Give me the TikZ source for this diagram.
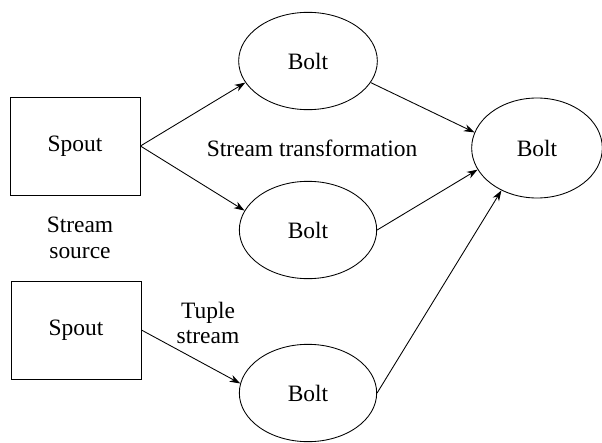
\documentclass[tikz,border=0pt]{standalone}
\usepackage{fontspec}
\setmainfont{Liberation Serif}
\usetikzlibrary{shapes.geometric,arrows.meta}

\tikzset{
  spoutbox/.style={draw,line width=0.65pt,minimum width=97.5pt,minimum height=73.5pt,inner sep=0pt},
  boltnode/.style={draw,ellipse,line width=0.65pt,minimum width=103pt,minimum height=73pt,inner sep=0pt},
  flow/.style={line width=0.65pt,-{Stealth[length=8pt,width=5.5pt]}},
  lbl/.style={inner sep=0pt,align=center}
}

\begin{document}
\begin{tikzpicture}[x=0.75pt,y=0.75pt,yscale=-1,xscale=1,font=\fontsize{17.6}{19}\selectfont]
        \useasboundingbox (0,0) rectangle (602,442);
        
        %Spouts
        \node[spoutbox] (spoutA) at (75,146) {Spout};
        \node[spoutbox] (spoutB) at (76,330) {Spout};
        %Bolts
        \node[boltnode,minimum width=104pt] (boltA) at (308,61) {Bolt};
        \node[boltnode] (boltB) at (308,230) {Bolt};
        \node[boltnode] (boltC) at (308,393) {Bolt};
        \node[boltnode,minimum width=98pt,minimum height=75pt] (boltD) at (537,148) {Bolt};
        
        %Straight Lines 
        \draw[flow] (spoutA.east) -- (boltA.199);
        \draw[flow] (spoutA.east) -- (boltB.163);
        \draw[flow] (spoutB.east) -- (boltC.172);
        \draw[flow] (boltA.341) -- (boltD.166);
        \draw[flow] (boltB.east) -- (boltD.200);
        \draw[flow] (boltC.east) -- (boltD.230);
        
        % Text Node
        \node[lbl] (srcLbl) at (80,238) {Stream\\source};
        % Text Node
        \node[lbl] (transLbl) at (312,148) {Stream transformation};
        % Text Node
        \node[lbl] (tupleLbl) at (208,323) {Tuple\\stream};
\end{tikzpicture}
\end{document}
